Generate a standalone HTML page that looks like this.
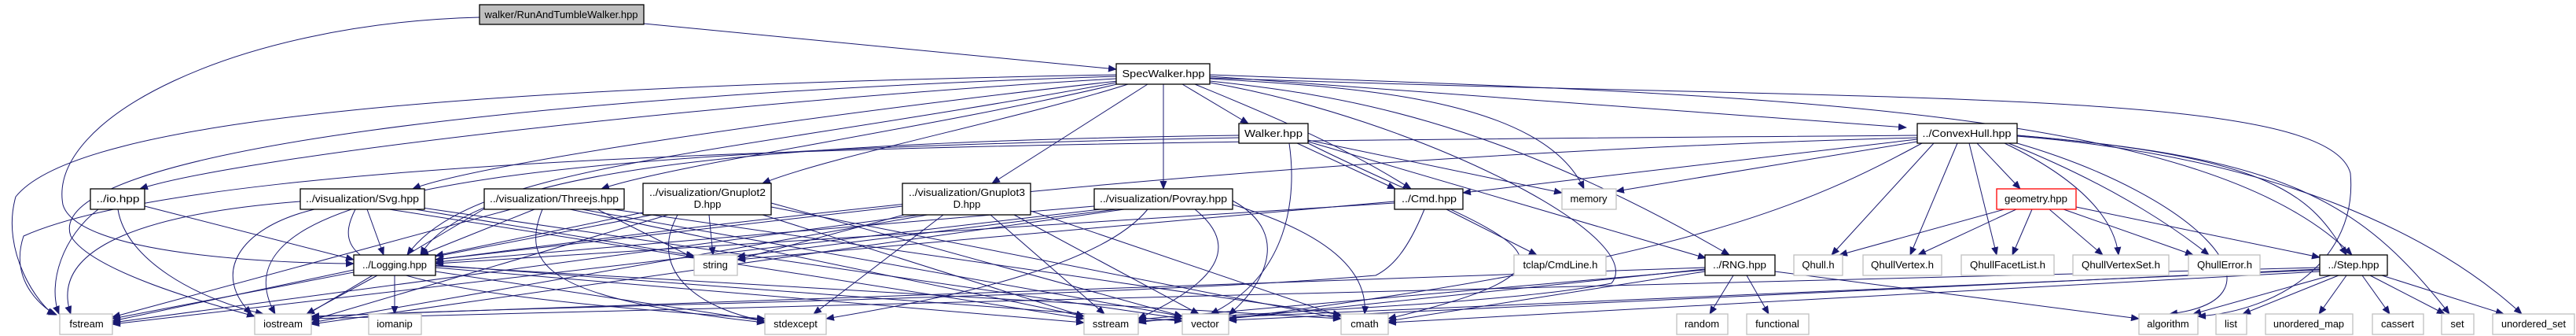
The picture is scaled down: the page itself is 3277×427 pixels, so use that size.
<!DOCTYPE html>
<html><head><meta charset="utf-8"><style>
html,body{margin:0;padding:0;background:#fff;width:3277px;height:427px;overflow:hidden}
svg{display:block}
text{font-family:"Liberation Sans",Arial,sans-serif;font-size:13px;fill:#000}
.e{fill:none;stroke:#191970;stroke-width:1;marker-end:url(#a)}
.n{fill:#fff;stroke:#000;stroke-width:1.3}
.g{fill:#fff;stroke:#bfbfbf;stroke-width:1.3}
</style></head><body>
<svg width="3277" height="427" viewBox="0 0 3277 427" xmlns="http://www.w3.org/2000/svg">
<defs><marker id="a" markerUnits="userSpaceOnUse" markerWidth="11" markerHeight="9" refX="10" refY="4.5" orient="auto"><path d="M0,0 L11,4.5 L0,9 z" fill="#191970"/></marker></defs>
<g>
<path class="e" d="M610,22 C300,30 60,150 80,260 C100,330 400,335 450,335"/>
<path class="e" d="M819,30 L1420,88"/>
<path class="e" d="M1420,95 C600,110 100,150 20,250 C0,320 50,390 70,400"/>
<path class="e" d="M1420,97 C700,120 50,190 90,300 C120,350 300,395 324,402"/>
<path class="e" d="M1420,100 C900,130 300,200 178,240"/>
<path class="e" d="M1422,103 C1000,150 600,210 525,240"/>
<path class="e" d="M1425,106 C1200,160 850,210 765,240"/>
<path class="e" d="M1435,107 C1300,150 1050,200 970,233"/>
<path class="e" d="M1460,107 L1262,233"/>
<path class="e" d="M1480,107 L1480,240"/>
<path class="e" d="M1504,107 L1588,157"/>
<path class="e" d="M1520,107 C1600,140 1700,180 1795,240"/>
<path class="e" d="M1539,100 C1700,110 1960,120 2015,240"/>
<path class="e" d="M1539,103 C1700,120 1900,150 2200,324"/>
<path class="e" d="M1539,97 L2425,162"/>
<path class="e" d="M1539,95 C2200,120 2800,130 2992,324"/>
<path class="e" d="M1420,105 C900,200 600,210 518,324"/>
<path class="e" d="M1539,105 C1800,150 2100,300 2050,360 C1900,390 1500,400 1448,410"/>
<path class="e" d="M1539,99 C2400,130 2960,110 2990,220 C3000,330 2900,395 2796,402"/>
<path class="e" d="M1576,172 C1000,180 600,210 535,324"/>
<path class="e" d="M1576,175 C800,190 250,220 350,399"/>
<path class="e" d="M1650,182 L1775,240"/>
<path class="e" d="M1664,178 L1987,245"/>
<path class="e" d="M1664,180 L2170,328"/>
<path class="e" d="M1640,182 C1650,250 1640,350 1540,399"/>
<path class="e" d="M1664,182 C1900,300 2080,330 1766,405"/>
<path class="e" d="M2439,172 C1500,180 300,180 30,300 C10,360 60,395 72,400"/>
<path class="e" d="M2439,177 L1861,245"/>
<path class="e" d="M2439,180 L2056,243"/>
<path class="e" d="M2445,182 C2300,260 2150,330 1563,405"/>
<path class="e" d="M2460,182 L2330,324"/>
<path class="e" d="M2490,182 L2430,324"/>
<path class="e" d="M2505,182 L2540,324"/>
<path class="e" d="M2515,182 L2570,240"/>
<path class="e" d="M2550,182 C2650,230 2690,280 2695,324"/>
<path class="e" d="M2555,182 C2700,240 2780,300 2810,324"/>
<path class="e" d="M2566,182 C2800,250 2920,380 2760,399"/>
<path class="e" d="M2566,172 C2900,200 2940,250 2985,324"/>
<path class="e" d="M2566,172 C2900,200 3000,250 3116,399"/>
<path class="e" d="M2566,173 C2900,200 3100,300 3208,399"/>
<path class="e" d="M2439,175 C1500,200 800,300 554,330"/>
<path class="e" d="M2550,266 L2340,324"/>
<path class="e" d="M2565,266 L2440,324"/>
<path class="e" d="M2585,266 L2560,324"/>
<path class="e" d="M2607,266 L2675,324"/>
<path class="e" d="M2625,266 L2790,324"/>
<path class="e" d="M2641,263 L2951,327"/>
<path class="e" d="M2951,340 L396,405"/>
<path class="e" d="M2951,342 L1563,407"/>
<path class="e" d="M2951,345 L1766,410"/>
<path class="e" d="M2951,343 L1448,408"/>
<path class="e" d="M2965,350 L2790,399"/>
<path class="e" d="M2975,350 L2853,399"/>
<path class="e" d="M2985,350 L2950,399"/>
<path class="e" d="M3005,350 L3040,399"/>
<path class="e" d="M3015,350 L3110,399"/>
<path class="e" d="M3030,350 L3185,399"/>
<path class="e" d="M2205,350 L2175,399"/>
<path class="e" d="M2222,350 L2250,399"/>
<path class="e" d="M2258,345 L2721,405"/>
<path class="e" d="M2169,345 L1766,408"/>
<path class="e" d="M2169,342 L1563,405"/>
<path class="e" d="M2169,340 L396,402"/>
<path class="e" d="M2169,343 L1448,406"/>
<path class="e" d="M1774,256 L938,330"/>
<path class="e" d="M1840,266 L1955,324"/>
<path class="e" d="M1812,266 C1790,320 1770,340 1750,350 C1400,380 600,390 396,403"/>
<path class="e" d="M1774,258 L554,335"/>
<path class="e" d="M450,343 L143,408"/>
<path class="e" d="M480,350 L390,399"/>
<path class="e" d="M502,350 L502,399"/>
<path class="e" d="M554,340 L1379,410"/>
<path class="e" d="M554,337 L1504,408"/>
<path class="e" d="M554,345 L973,408"/>
<path class="e" d="M554,338 L1706,405"/>
<path class="e" d="M125,266 C80,300 60,360 75,399"/>
<path class="e" d="M150,266 C160,330 250,380 335,399"/>
<path class="e" d="M184,262 L450,330"/>
<path class="e" d="M467,266 L488,324"/>
<path class="e" d="M382,256 C200,270 60,310 90,399"/>
<path class="e" d="M400,266 C300,290 270,350 320,399"/>
<path class="e" d="M510,263 L883,325"/>
<path class="e" d="M495,266 L1379,405"/>
<path class="e" d="M530,263 L1504,405"/>
<path class="e" d="M452,266 C420,330 450,370 973,405"/>
<path class="e" d="M680,266 L535,324"/>
<path class="e" d="M650,266 L143,403"/>
<path class="e" d="M620,263 L390,400"/>
<path class="e" d="M760,266 L883,328"/>
<path class="e" d="M725,266 L1379,402"/>
<path class="e" d="M740,266 L1504,402"/>
<path class="e" d="M780,266 L1706,400"/>
<path class="e" d="M690,266 C660,340 700,380 973,410"/>
<path class="e" d="M818,270 L554,325"/>
<path class="e" d="M902,273 L907,324"/>
<path class="e" d="M830,273 L143,405"/>
<path class="e" d="M850,273 L396,407"/>
<path class="e" d="M862,273 C820,350 900,395 973,408"/>
<path class="e" d="M970,273 L1379,402"/>
<path class="e" d="M981,258 L1504,402"/>
<path class="e" d="M981,263 L1706,405"/>
<path class="e" d="M1148,262 L554,330"/>
<path class="e" d="M1150,273 L938,330"/>
<path class="e" d="M1200,273 L1035,399"/>
<path class="e" d="M1260,273 L1405,399"/>
<path class="e" d="M1290,273 L1525,399"/>
<path class="e" d="M1311,268 L1706,402"/>
<path class="e" d="M1170,273 L143,410"/>
<path class="e" d="M1180,273 L396,410"/>
<path class="e" d="M1392,262 L554,333"/>
<path class="e" d="M1420,266 L938,326"/>
<path class="e" d="M1400,266 L143,412"/>
<path class="e" d="M1430,266 L396,412"/>
<path class="e" d="M1460,266 C1400,340 1200,380 1051,405"/>
<path class="e" d="M1520,266 C1600,330 1500,380 1448,405"/>
<path class="e" d="M1568,255 C1650,300 1600,370 1563,400"/>
<path class="e" d="M1568,260 C1700,300 1740,350 1736,399"/>
</g>
<g>
<rect x="610" y="6" width="209" height="25" fill="#bfbfbf" stroke="#000" stroke-width="1.3"/><text x="714" y="23" text-anchor="middle" textLength="195" lengthAdjust="spacingAndGlyphs">walker/RunAndTumbleWalker.hpp</text>
<rect class="n" x="1420" y="81" width="119" height="26"/><text x="1480" y="98" text-anchor="middle" textLength="105" lengthAdjust="spacingAndGlyphs">SpecWalker.hpp</text>
<rect class="n" x="1576" y="157" width="88" height="25"/><text x="1620" y="174" text-anchor="middle" textLength="74" lengthAdjust="spacingAndGlyphs">Walker.hpp</text>
<rect class="n" x="2439" y="157" width="127" height="25"/><text x="2502" y="174" text-anchor="middle" textLength="113" lengthAdjust="spacingAndGlyphs">../ConvexHull.hpp</text>
<rect class="n" x="115" y="240" width="69" height="26"/><text x="150" y="257" text-anchor="middle" textLength="55" lengthAdjust="spacingAndGlyphs">../io.hpp</text>
<rect class="n" x="382" y="240" width="158" height="26"/><text x="461" y="257" text-anchor="middle" textLength="144" lengthAdjust="spacingAndGlyphs">../visualization/Svg.hpp</text>
<rect class="n" x="616" y="240" width="178" height="26"/><text x="705" y="257" text-anchor="middle" textLength="164" lengthAdjust="spacingAndGlyphs">../visualization/Threejs.hpp</text>
<rect class="n" x="818" y="233" width="163" height="40"/><text x="900" y="249" text-anchor="middle" textLength="148" lengthAdjust="spacingAndGlyphs">../visualization/Gnuplot2</text><text x="900" y="264" text-anchor="middle">D.hpp</text>
<rect class="n" x="1148" y="233" width="163" height="40"/><text x="1230" y="249" text-anchor="middle" textLength="148" lengthAdjust="spacingAndGlyphs">../visualization/Gnuplot3</text><text x="1230" y="264" text-anchor="middle">D.hpp</text>
<rect class="n" x="1392" y="240" width="176" height="26"/><text x="1480" y="257" text-anchor="middle" textLength="162" lengthAdjust="spacingAndGlyphs">../visualization/Povray.hpp</text>
<rect class="n" x="1774" y="240" width="87" height="26"/><text x="1818" y="257" text-anchor="middle" textLength="70" lengthAdjust="spacingAndGlyphs">../Cmd.hpp</text>
<rect class="g" x="1987" y="240" width="69" height="26"/><text x="2021" y="257" text-anchor="middle">memory</text>
<rect x="2540" y="240" width="101" height="26" fill="#fff" stroke="#ff0000" stroke-width="1.3"/><text x="2590" y="257" text-anchor="middle" textLength="80" lengthAdjust="spacingAndGlyphs">geometry.hpp</text>
<rect class="n" x="450" y="324" width="104" height="26"/><text x="502" y="341" text-anchor="middle" textLength="82" lengthAdjust="spacingAndGlyphs">../Logging.hpp</text>
<rect class="g" x="883" y="324" width="55" height="26"/><text x="910" y="341" text-anchor="middle">string</text>
<rect class="g" x="1926" y="324" width="117" height="26"/><text x="1985" y="341" text-anchor="middle" textLength="95" lengthAdjust="spacingAndGlyphs">tclap/CmdLine.h</text>
<rect class="n" x="2169" y="324" width="89" height="26"/><text x="2213" y="341" text-anchor="middle" textLength="68" lengthAdjust="spacingAndGlyphs">../RNG.hpp</text>
<rect class="g" x="2282" y="324" width="62" height="26"/><text x="2313" y="341" text-anchor="middle">Qhull.h</text>
<rect class="g" x="2370" y="324" width="100" height="26"/><text x="2420" y="341" text-anchor="middle" textLength="80" lengthAdjust="spacingAndGlyphs">QhullVertex.h</text>
<rect class="g" x="2495" y="324" width="118" height="26"/><text x="2554" y="341" text-anchor="middle" textLength="96" lengthAdjust="spacingAndGlyphs">QhullFacetList.h</text>
<rect class="g" x="2637" y="324" width="122" height="26"/><text x="2698" y="341" text-anchor="middle" textLength="100" lengthAdjust="spacingAndGlyphs">QhullVertexSet.h</text>
<rect class="g" x="2784" y="324" width="91" height="26"/><text x="2830" y="341" text-anchor="middle" textLength="70" lengthAdjust="spacingAndGlyphs">QhullError.h</text>
<rect class="n" x="2951" y="324" width="86" height="26"/><text x="2994" y="341" text-anchor="middle" textLength="65" lengthAdjust="spacingAndGlyphs">../Step.hpp</text>
<rect class="g" x="76" y="399" width="67" height="26"/><text x="110" y="416" text-anchor="middle">fstream</text>
<rect class="g" x="324" y="399" width="72" height="26"/><text x="360" y="416" text-anchor="middle">iostream</text>
<rect class="g" x="469" y="399" width="67" height="26"/><text x="502" y="416" text-anchor="middle">iomanip</text>
<rect class="g" x="973" y="399" width="78" height="26"/><text x="1012" y="416" text-anchor="middle">stdexcept</text>
<rect class="g" x="1379" y="399" width="69" height="26"/><text x="1413" y="416" text-anchor="middle">sstream</text>
<rect class="g" x="1504" y="399" width="59" height="26"/><text x="1533" y="416" text-anchor="middle">vector</text>
<rect class="g" x="1706" y="399" width="60" height="26"/><text x="1736" y="416" text-anchor="middle">cmath</text>
<rect class="g" x="2133" y="399" width="65" height="26"/><text x="2165" y="416" text-anchor="middle">random</text>
<rect class="g" x="2222" y="399" width="79" height="26"/><text x="2261" y="416" text-anchor="middle">functional</text>
<rect class="g" x="2721" y="399" width="75" height="26"/><text x="2758" y="416" text-anchor="middle">algorithm</text>
<rect class="g" x="2819" y="399" width="39" height="26"/><text x="2838" y="416" text-anchor="middle">list</text>
<rect class="g" x="2882" y="399" width="111" height="26"/><text x="2937" y="416" text-anchor="middle" textLength="90" lengthAdjust="spacingAndGlyphs">unordered_map</text>
<rect class="g" x="3018" y="399" width="65" height="26"/><text x="3050" y="416" text-anchor="middle">cassert</text>
<rect class="g" x="3106" y="399" width="41" height="26"/><text x="3126" y="416" text-anchor="middle">set</text>
<rect class="g" x="3171" y="399" width="104" height="26"/><text x="3223" y="416" text-anchor="middle" textLength="82" lengthAdjust="spacingAndGlyphs">unordered_set</text>
</g>
</svg>
</body></html>
